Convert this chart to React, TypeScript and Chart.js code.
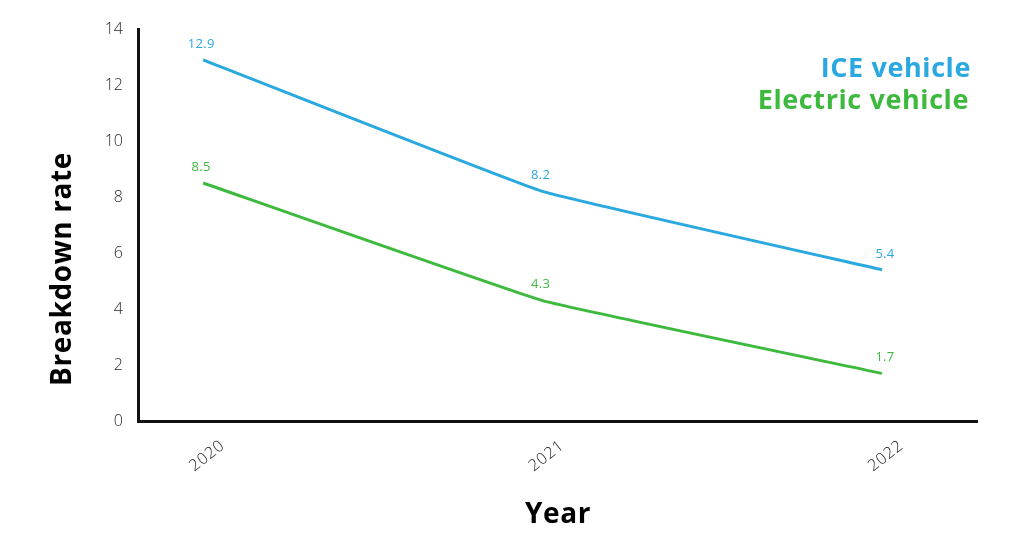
import React, { useEffect, useRef } from "react";
import Chart from "chart.js/auto";

const years = [2020, 2021, 2022];
const iceValues = [12.9, 8.2, 5.4];
const electricValues = [8.5, 4.3, 1.7];
const seriesNames = ["ICE vehicle", "Electric vehicle"];
const seriesColors = ["#2aa8e0", "#3dba3d"];
const yTicks = [0, 2, 4, 6, 8, 10, 12, 14];

const FONT = "'Open Sans', sans-serif";

// draws the point labels, x tick labels, axis titles and the text legend
const textPlugin = {
  id: "textPlugin",
  afterDraw(chart: any) {
    const ctx = chart.ctx;
    const xs = chart.scales.x;
    ctx.save();

    // value labels above points
    chart.data.datasets.forEach((ds: any, i: number) => {
      const meta = chart.getDatasetMeta(i);
      ctx.fillStyle = ds.borderColor;
      ctx.font = `400 13px ${FONT}`;
      ctx.letterSpacing = "0.3px";
      ctx.textAlign = "center";
      ctx.textBaseline = "middle";
      meta.data.forEach((pt: any, j: number) => {
        const dx = j === meta.data.length - 1 ? 5 : 0;
        ctx.fillText(String(ds.data[j].y), pt.x + dx - 2, pt.y - 16);
      });
    });

    // rotated year labels
    ctx.fillStyle = "#222";
    ctx.font = `300 16px ${FONT}`;
    ctx.letterSpacing = "0.8px";
    ctx.textAlign = "center";
    ctx.textBaseline = "middle";
    years.forEach((yr) => {
      const px = xs.getPixelForValue(yr);
      ctx.save();
      ctx.translate(px + 4, 456);
      ctx.rotate((-38 * Math.PI) / 180);
      ctx.fillText(String(yr), 0, 0);
      ctx.restore();
    });

    // axis titles
    ctx.fillStyle = "#000";
    ctx.font = `700 28px ${FONT}`;
    ctx.letterSpacing = "0.6px";
    ctx.textAlign = "center";
    ctx.textBaseline = "middle";
    ctx.fillText("Year", 558, 515);
    ctx.save();
    ctx.translate(63, 269);
    ctx.rotate(-Math.PI / 2);
    ctx.fillText("Breakdown rate", 0, 0);
    ctx.restore();

    // legend, right aligned
    ctx.font = `700 27px ${FONT}`;
    ctx.letterSpacing = "0.6px";
    ctx.textAlign = "right";
    seriesNames.forEach((name, i) => {
      ctx.fillStyle = seriesColors[i];
      ctx.fillText(name, i === 0 ? 971 : 969, i === 0 ? 69 : 101);
    });

    ctx.restore();
  },
};

const App: React.FC = () => {
  const chartRef = useRef<HTMLCanvasElement>(null);
  const chartInstance = useRef<Chart>();

  useEffect(() => {
    if (chartRef && chartRef.current) {
      const ctx = chartRef.current.getContext("2d");
      if (ctx) {
        chartInstance.current = new Chart(ctx, {
          type: "line",
          data: {
            datasets: [
              {
                label: seriesNames[0],
                data: years.map((yr, i) => ({ x: yr, y: iceValues[i] })),
                borderColor: seriesColors[0],
                borderWidth: 3,
                pointRadius: 0,
                tension: 0.08,
              },
              {
                label: seriesNames[1],
                data: years.map((yr, i) => ({ x: yr, y: electricValues[i] })),
                borderColor: seriesColors[1],
                borderWidth: 3,
                pointRadius: 0,
                tension: 0.08,
              },
            ],
          },
          plugins: [textPlugin],
          options: {
            animation: false,
            responsive: true,
            maintainAspectRatio: false,
            layout: { padding: { top: 29, right: 47, bottom: 0, left: 0 } },
            plugins: {
              legend: { display: false },
              tooltip: { enabled: false },
            },
            scales: {
              x: {
                type: "linear",
                min: 2019.808,
                max: 2022.28,
                grid: { display: false, drawTicks: false },
                border: { display: true, color: "#111", width: 3 },
                ticks: { display: false },
                afterFit: (scale: any) => {
                  scale.height = 115;
                },
              },
              y: {
                min: 0,
                max: 14,
                afterBuildTicks: (scale: any) => {
                  scale.ticks = yTicks.map((v) => ({ value: v }));
                },
                grid: { display: false, drawTicks: false },
                border: { display: true, color: "#111", width: 3 },
                ticks: {
                  padding: 15,
                  color: "#2a2a2a",
                  font: { family: FONT, size: 16, weight: 300 },
                },
                afterFit: (scale: any) => {
                  scale.width = 138;
                },
              },
            },
          },
        });
      }
    }

    return () => {
      if (chartInstance.current) {
        chartInstance.current.destroy();
      }
    };
  }, []);

  return (
    <div style={{ position: "fixed", left: 0, top: 0, width: 1024, height: 536, background: "#fff" }}>
      <canvas ref={chartRef} />
    </div>
  );
};

export default App;
